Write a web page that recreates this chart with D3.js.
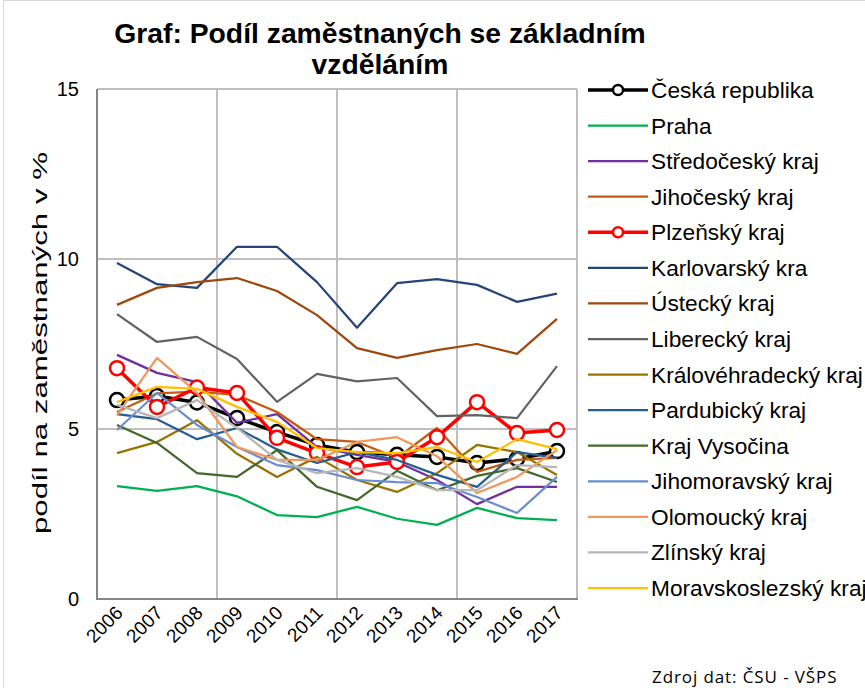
<!DOCTYPE html>
<html>
<head>
<meta charset="utf-8">
<script src="https://cdn.jsdelivr.net/npm/d3@7"></script>
<style>
	body { margin: 0; background: #fff; }
	svg { font-family: "Liberation Sans", Arial, sans-serif; }
</style>
</head>
<body>
<svg width="865" height="688"></svg>
<script>

var years = ["2006","2007","2008","2009","2010","2011","2012","2013","2014","2015","2016","2017"];
var yTicks = [0, 5, 10, 15];

var seriesNames = ["Česká republika","Praha","Středočeský kraj","Jihočeský kraj","Plzeňský kraj",
	"Karlovarský kra","Ústecký kraj","Liberecký kraj","Královéhradecký kraj","Pardubický kraj",
	"Kraj Vysočina","Jihomoravský kraj","Olomoucký kraj","Zlínský kraj","Moravskoslezský kraj"];

var ceskaRepublika  = [5.85, 5.97, 5.78, 5.32, 4.91, 4.53, 4.32, 4.24, 4.18, 4.00, 4.12, 4.35];
var praha           = [3.32, 3.18, 3.32, 3.02, 2.47, 2.41, 2.71, 2.36, 2.18, 2.68, 2.38, 2.32];
var stredocesky     = [7.18, 6.65, 6.38, 5.18, 5.44, 4.47, 4.24, 4.03, 3.50, 2.79, 3.30, 3.30];
var jihocesky       = [5.50, 6.05, 6.10, 6.00, 5.50, 4.70, 4.62, 4.15, 5.03, 3.74, 4.09, 4.15];
var plzensky        = [6.79, 5.65, 6.22, 6.06, 4.74, 4.29, 3.88, 4.03, 4.76, 5.79, 4.88, 4.97];
var karlovarsky     = [9.88, 9.26, 9.15, 10.36, 10.36, 9.32, 7.98, 9.29, 9.41, 9.24, 8.74, 8.98];
var ustecky         = [8.65, 9.15, 9.32, 9.44, 9.06, 8.35, 7.38, 7.09, 7.32, 7.50, 7.21, 8.24];
var liberecky       = [8.38, 7.56, 7.71, 7.06, 5.80, 6.62, 6.40, 6.50, 5.38, 5.41, 5.32, 6.85];
var kralovehradecky = [4.29, 4.62, 5.26, 4.27, 3.59, 4.18, 3.50, 3.15, 3.70, 4.53, 4.32, 3.65];
var pardubicky      = [5.44, 5.29, 4.70, 5.03, 4.40, 4.00, 4.32, 4.09, 3.65, 3.30, 4.32, 4.15];
var vysocina        = [5.12, 4.59, 3.70, 3.59, 4.38, 3.30, 2.91, 3.77, 3.20, 3.62, 3.85, 3.44];
var jihomoravsky    = [4.97, 6.06, 5.12, 4.47, 3.94, 3.79, 3.50, 3.44, 3.41, 3.00, 2.53, 3.59];
var olomoucky       = [5.41, 7.09, 6.06, 4.47, 4.09, 4.09, 4.62, 4.76, 4.20, 3.12, 3.59, 4.38];
var zlinsky         = [5.71, 5.32, 5.85, 5.03, 4.09, 3.70, 3.85, 3.59, 3.20, 3.20, 3.94, 3.88];
var moravskoslezsky = [5.79, 6.24, 6.18, 5.65, 5.21, 4.44, 4.32, 4.29, 4.47, 4.03, 4.70, 4.41];

var seriesValues = [ceskaRepublika, praha, stredocesky, jihocesky, plzensky, karlovarsky, ustecky,
	liberecky, kralovehradecky, pardubicky, vysocina, jihomoravsky, olomoucky, zlinsky, moravskoslezsky];

var colors = ["#000000","#00B050","#7030A0","#C55A11","#FF0000","#264478","#9E480E","#636363",
	"#997300","#255E91","#43682B","#698ED0","#F1975A","#B7B7B7","#FFC000"];
var withMarkers = [true,false,false,false,true,false,false,false,false,false,false,false,false,false,false];

var plot = { left: 97, right: 577, top: 89, bottom: 599 };

var svg = d3.select("svg");

// outer frame
svg.append('rect')
	.attr('x', 3.5).attr('y', 0.5)
	.attr('width', 870).attr('height', 700)
	.attr('fill', 'none')
	.attr('stroke', '#D9D9D9');

var x = d3.scalePoint().domain(years).range([plot.left, plot.right]).padding(0.5);
var xBand = d3.scaleBand().domain(years).range([plot.left, plot.right]);
var y = d3.scaleLinear().domain([0, 15]).range([plot.bottom, plot.top]);

// gridlines
var grid = svg.append('g');
grid.selectAll('.hgrid')
	.data(yTicks.filter(function(d){ return d > 0; }))
	.join('line')
	.attr('x1', plot.left).attr('x2', plot.right)
	.attr('y1', function(d){ return y(d); })
	.attr('y2', function(d){ return y(d); })
	.attr('stroke', '#BFBFBF').attr('stroke-width', 2);

var vgrid = years.filter(function(d, i){ return i > 0 && i % 3 === 0; });
grid.selectAll('.vgrid')
	.data(vgrid)
	.join('line')
	.attr('x1', function(d){ return xBand(d); })
	.attr('x2', function(d){ return xBand(d); })
	.attr('y1', plot.top).attr('y2', plot.bottom)
	.attr('stroke', '#BFBFBF').attr('stroke-width', 2);

grid.append('line')
	.attr('x1', plot.right).attr('x2', plot.right)
	.attr('y1', plot.top).attr('y2', plot.bottom)
	.attr('stroke', '#BFBFBF').attr('stroke-width', 2);

// axes
svg.append('line')
	.attr('x1', plot.left).attr('x2', plot.left)
	.attr('y1', plot.top).attr('y2', plot.bottom)
	.attr('stroke', '#868686').attr('stroke-width', 2);
svg.append('line')
	.attr('x1', plot.left - 1).attr('x2', plot.right + 1)
	.attr('y1', plot.bottom).attr('y2', plot.bottom)
	.attr('stroke', '#868686').attr('stroke-width', 2);

svg.selectAll('.ylab')
	.data(yTicks)
	.join('text')
	.attr('x', 79)
	.attr('y', function(d){ return y(d) + 7; })
	.attr('text-anchor', 'end')
	.attr('font-size', 20)
	.attr('fill', '#000')
	.text(function(d){ return d; });

svg.selectAll('.xlab')
	.data(years)
	.join('text')
	.attr('transform', function(d){ return 'translate(' + (x(d) + 7) + ',' + 614 + ') rotate(-45)'; })
	.attr('text-anchor', 'end')
	.attr('font-size', 19)
	.attr('fill', '#000')
	.text(function(d){ return d; });

svg.append('text')
	.attr('transform', 'translate(47,' + 343 + ') rotate(-90)')
	.attr('text-anchor', 'middle')
	.attr('font-size', 21)
	.attr('textLength', 382)
	.attr('lengthAdjust', 'spacingAndGlyphs')
	.attr('fill', '#000')
	.text('podíl na zaměstnaných v %');

// title
var title = svg.append('text')
	.attr('text-anchor', 'middle')
	.attr('font-size', 28.3)
	.attr('font-weight', 'bold')
	.attr('fill', '#000');
title.append('tspan').attr('x', 380).attr('y', 43).text('Graf: Podíl zaměstnaných se základním');
title.append('tspan').attr('x', 380).attr('y', 74).text('vzděláním');

// lines
var line = d3.line()
	.x(function(d, i){ return x(years[i]); })
	.y(function(d){ return y(d); });

seriesValues.forEach(function(vals, s){
	var g = svg.append('g');
	g.append('path')
		.datum(vals)
		.attr('d', line)
		.attr('fill', 'none')
		.attr('stroke', colors[s])
		.attr('stroke-width', withMarkers[s] ? 3.5 : 2.25)
		.attr('stroke-linejoin', 'round');
	if (withMarkers[s]) {
		g.selectAll('circle')
			.data(vals)
			.join('circle')
			.attr('cx', function(d, i){ return x(years[i]); })
			.attr('cy', function(d){ return y(d); })
			.attr('r', 7)
			.attr('fill', '#fff')
			.attr('stroke', colors[s])
			.attr('stroke-width', 2.5);
	}
});

// legend
var legend = svg.append('g');
var rowY = d3.scaleLinear().domain([0, 14]).range([90, 588]);
seriesNames.forEach(function(name, s){
	var ly = rowY(s);
	legend.append('line')
		.attr('x1', 588).attr('x2', 648)
		.attr('y1', ly).attr('y2', ly)
		.attr('stroke', colors[s])
		.attr('stroke-width', withMarkers[s] ? 3.5 : 2.25);
	if (withMarkers[s]) {
		legend.append('circle')
			.attr('cx', 618).attr('cy', ly).attr('r', 5)
			.attr('fill', '#fff')
			.attr('stroke', colors[s])
			.attr('stroke-width', 2.5);
	}
	legend.append('text')
		.attr('x', 651).attr('y', ly + 8)
		.attr('font-size', 22.7)
		.attr('fill', '#000')
		.text(name);
});

svg.append('text')
	.attr('x', 652).attr('y', 683)
	.attr('font-family', '"Open Sans", sans-serif')
	.attr('font-size', 17)
	.attr('letter-spacing', 0.9)
	.attr('fill', '#000')
	.text('Zdroj dat: ČSU - VŠPS');

</script>
</body>
</html>
